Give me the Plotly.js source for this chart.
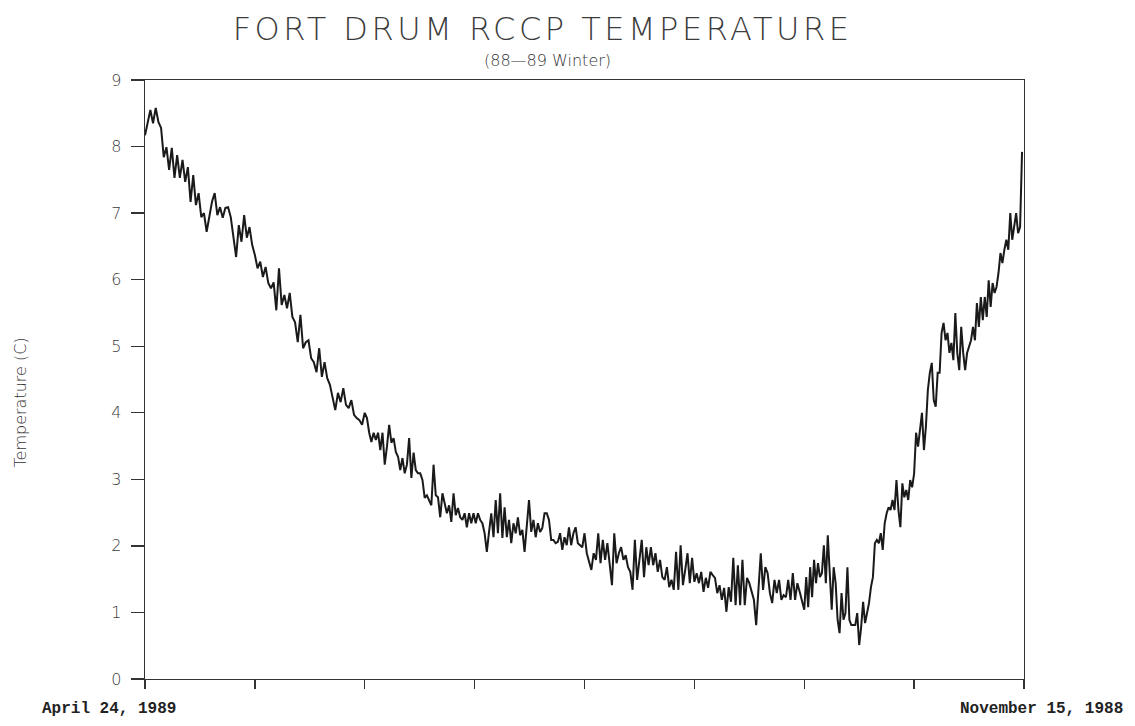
<!DOCTYPE html>
<html>
<head>
<meta charset="utf-8">
<script src="https://cdn.plot.ly/plotly-3.0.1.min.js"></script>
<style>
  html, body { margin: 0; padding: 0; background: #fff; }
  #chart { width: 1135px; height: 726px; }
  .gtitle { letter-spacing: 3.5px; }
</style>
</head>
<body>
<div id="chart"></div>
<script>
// RCCP temperature readings (deg C), listed from April 24, 1989 back to
// November 15, 1988, one array per 40-day block of the winter.
const tempApr24toMar15 = [
  8.17, 8.37, 8.55, 8.35, 8.58, 8.37, 8.28, 7.84, 7.99, 7.65,
  7.98, 7.53, 7.87, 7.53, 7.80, 7.47, 7.69, 7.17, 7.57, 7.12,
  7.30, 6.94, 7.00, 6.72, 6.94, 7.17, 7.30, 6.97, 7.09, 6.93,
  7.08, 7.09, 6.94, 6.60, 6.34, 6.82, 6.57, 6.97, 6.63, 6.79,
  6.52, 6.37, 6.17, 6.27, 6.04, 6.19, 5.95, 5.87, 5.96, 5.54,
  6.17, 5.62, 5.77, 5.57, 5.80, 5.44, 5.36, 5.06, 5.47, 4.97,
  5.06, 5.09, 4.82, 4.76, 4.61, 4.97, 4.54, 4.76, 4.52, 4.42,
  4.24, 4.04, 4.30, 4.16, 4.37, 4.12, 4.07, 4.19, 3.97, 3.92,
  3.89, 3.82
];
const tempMar15toFeb3 = [
  4.00, 3.92, 3.70, 3.56, 3.70, 3.59, 3.70, 3.44, 3.70, 3.22,
  3.49, 3.82, 3.55, 3.62, 3.41, 3.34, 3.14, 3.32, 3.09, 3.22,
  3.62, 3.02, 3.40, 3.14, 3.09, 3.09, 2.99, 2.72, 2.76, 2.69,
  2.61, 3.22, 2.76, 2.73, 2.43, 2.79, 2.64, 2.49, 2.61, 2.36,
  2.79, 2.46, 2.57, 2.43, 2.39, 2.49, 2.28, 2.49, 2.34, 2.49,
  2.34, 2.49, 2.39, 2.34, 2.19, 1.91, 2.21, 2.49, 2.13, 2.69,
  2.19, 2.79, 2.12, 2.58, 2.13, 2.39, 2.04, 2.34, 2.19, 2.43,
  2.16, 2.24, 1.91, 2.34, 2.69, 2.21, 2.39, 2.13, 2.34, 2.21,
  2.27, 2.49, 2.49, 2.39, 2.09, 2.09, 2.04, 2.06, 2.19, 1.94,
  2.13, 2.01, 2.28, 2.01, 2.19, 2.28, 2.04, 2.01, 1.98
];
const tempFeb3toDec25 = [
  2.19, 1.89, 1.76, 1.64, 1.89, 1.79, 2.19, 1.74, 2.09, 1.79,
  2.04, 1.74, 1.41, 2.19, 1.74, 1.89, 1.98, 1.79, 1.86, 1.68,
  1.61, 1.34, 2.09, 1.49, 1.79, 2.09, 1.53, 1.98, 1.71, 1.98,
  1.71, 1.89, 1.61, 1.79, 1.53, 1.49, 1.68, 1.38, 1.49, 1.34,
  1.91, 1.34, 2.01, 1.41, 1.64, 1.89, 1.44, 1.82, 1.46, 1.59,
  1.44, 1.61, 1.31, 1.52, 1.37, 1.61, 1.56, 1.52, 1.29, 1.41,
  1.19, 1.37, 1.01, 1.38, 1.16, 1.82, 1.11, 1.71, 1.11, 1.79,
  1.11, 1.52, 1.44, 1.29, 1.19, 0.81, 1.34, 1.89, 1.34, 1.68,
  1.59, 1.29, 1.14, 1.49, 1.29, 1.49, 1.19, 1.26, 1.23, 1.49,
  1.19, 1.59, 1.19, 1.44, 1.31, 1.19
];
const tempDec25toNov15 = [
  1.04, 1.53, 1.08, 1.68, 1.23, 1.79, 1.44, 1.74, 1.53, 1.59,
  2.01, 1.44, 2.16, 1.59, 1.04, 1.68, 1.44, 0.89, 0.69, 1.29,
  0.89, 0.99, 1.68, 0.89, 0.81, 0.81, 0.81, 0.99, 0.51, 0.78,
  1.16, 0.84, 0.99, 1.14, 1.38, 1.53, 2.04, 2.09, 2.04, 2.19,
  1.94, 2.34, 2.49, 2.58, 2.54, 2.69, 2.54, 2.99, 2.54, 2.28,
  2.94, 2.73, 2.84, 2.69, 2.99, 2.88, 3.09, 3.70, 3.49, 3.79,
  4.00, 3.44, 3.79, 4.34, 4.60, 4.75, 4.19, 4.09, 4.60, 4.60,
  5.20, 5.35, 5.09, 5.20, 4.90, 5.05, 4.79, 5.50, 4.90, 4.64,
  5.29, 4.90, 4.64, 4.90, 4.99, 5.09, 5.29, 5.09, 5.65, 5.29,
  5.74, 5.39, 5.74, 5.44, 5.99, 5.59, 5.95, 5.80, 5.89, 6.10,
  6.40, 6.25, 6.45, 6.60, 6.45, 7.00, 6.60, 6.79, 7.00, 6.70,
  6.79, 7.92
];

const yTickValues = [0, 1, 2, 3, 4, 5, 6, 7, 8, 9];
const startLabel = 'April 24, 1989';
const endLabel = 'November 15, 1988';

const DAY_MS = 86400000;
const BLOCK_DAYS = 40;
const seasonEnd = Date.UTC(1989, 3, 24);

// Spread each block's readings evenly over its 40 days, counting back in time.
const blocks = [tempApr24toMar15, tempMar15toFeb3, tempFeb3toDec25, tempDec25toNov15];
const times = [];
const temps = [];
blocks.forEach((vals, k) => {
  vals.forEach((v, i) => {
    const daysBack = k * BLOCK_DAYS + BLOCK_DAYS * i / vals.length;
    const t = new Date(seasonEnd - daysBack * DAY_MS);
    times.push(t.toISOString().slice(0, 19).replace('T', ' '));
    temps.push(v);
  });
});

const thinFont = { family: 'DejaVu Sans, Roboto, sans-serif', color: '#3c3c3c', weight: 200 };

const trace = {
  type: 'scatter',
  mode: 'lines',
  x: times,
  y: temps,
  line: { color: '#1a1a1a', width: 2 },
  hoverinfo: 'skip'
};

const layout = {
  width: 1135,
  height: 726,
  margin: { l: 145, r: 111, t: 80, b: 47 },
  paper_bgcolor: '#ffffff',
  plot_bgcolor: '#ffffff',
  showlegend: false,
  title: {
    text: 'FORT DRUM RCCP TEMPERATURE',
    font: Object.assign({}, thinFont, { size: 32 }),
    xref: 'container',
    x: 0.478,
    xanchor: 'center',
    yref: 'container',
    y: 0.961,
    yanchor: 'middle'
  },
  xaxis: {
    type: 'date',
    range: ['1989-04-24', '1988-11-15'],
    tick0: '1988-11-15',
    dtick: 20 * DAY_MS,
    ticks: 'outside',
    ticklen: 9,
    tickwidth: 1.3,
    tickcolor: '#333',
    showticklabels: false,
    showline: true,
    linecolor: '#333',
    linewidth: 1.3,
    mirror: true,
    showgrid: false,
    zeroline: false,
    fixedrange: true
  },
  yaxis: {
    range: [0, 9],
    tickmode: 'array',
    tickvals: yTickValues,
    ticktext: yTickValues.map(String),
    ticks: 'outside',
    ticklen: 13,
    tickwidth: 1.3,
    tickcolor: '#333',
    ticklabelstandoff: 6,
    tickfont: Object.assign({}, thinFont, { size: 16 }),
    showline: true,
    linecolor: '#333',
    linewidth: 1.3,
    mirror: true,
    showgrid: false,
    zeroline: false,
    fixedrange: true
  },
  annotations: [
    {
      text: '(88\u201489 Winter)',
      xref: 'paper', yref: 'paper',
      x: 0.458, y: 1.033,
      xanchor: 'center', yanchor: 'middle',
      showarrow: false,
      font: Object.assign({}, thinFont, { size: 16, color: '#333' })
    },
    {
      text: 'Temperature (C)',
      xref: 'paper', yref: 'paper',
      x: -0.142, y: 0.462,
      xanchor: 'center', yanchor: 'middle',
      textangle: -90,
      showarrow: false,
      font: Object.assign({}, thinFont, { size: 16, color: '#333' })
    },
    {
      text: startLabel,
      xref: 'paper', yref: 'paper',
      x: -0.1195, y: -0.05,
      xanchor: 'left', yanchor: 'middle',
      showarrow: false,
      font: { family: 'Liberation Mono, monospace', size: 16, color: '#222', weight: 700 }
    },
    {
      text: endLabel,
      xref: 'paper', yref: 'paper',
      x: 1.115, y: -0.05,
      xanchor: 'right', yanchor: 'middle',
      showarrow: false,
      font: { family: 'Liberation Mono, monospace', size: 16, color: '#222', weight: 700 }
    }
  ]
};

Plotly.newPlot('chart', [trace], layout, { staticPlot: true, displayModeBar: false });
</script>
</body>
</html>
